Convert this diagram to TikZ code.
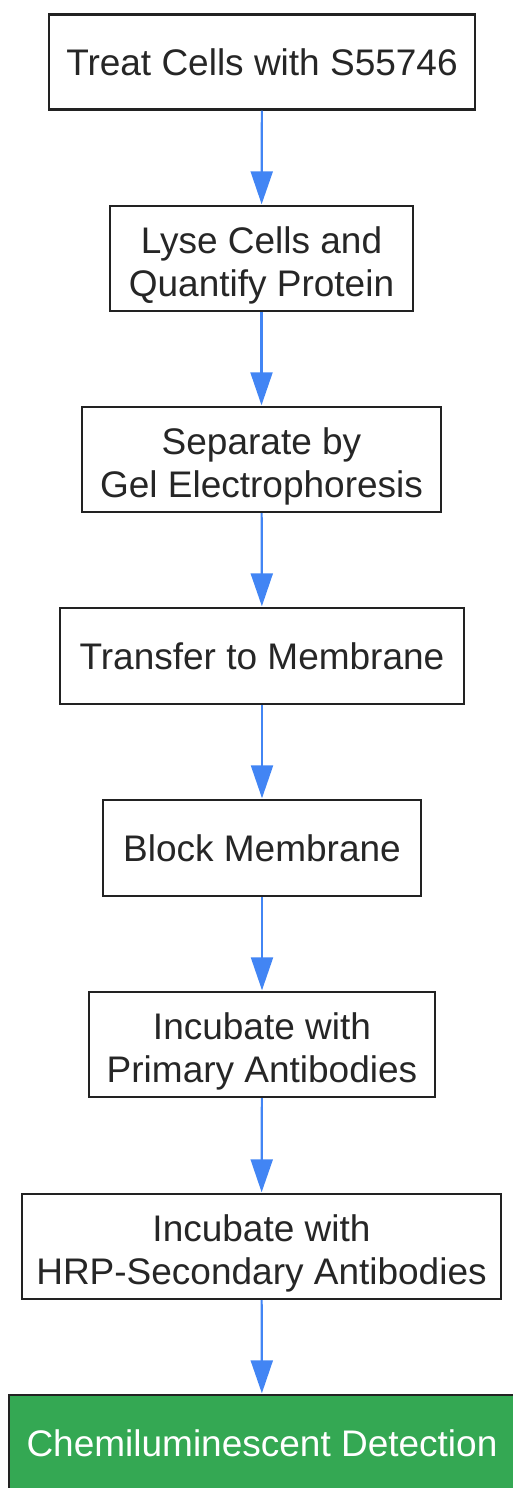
\documentclass[tikz,border=0pt]{standalone}
\usepackage{fontspec}
\setmainfont{Liberation Sans}
\usetikzlibrary{arrows.meta}
\definecolor{boxline}{HTML}{222222}
\definecolor{txt}{HTML}{262626}
\definecolor{arr}{HTML}{4285F4}
\definecolor{grn}{HTML}{34A853}
\newcommand{\topstrut}{\rule{0pt}{40pt}}
\tikzset{
  stepbox/.style={draw=boxline, line width=2.4pt, fill=white, inner sep=0pt, align=center,
    text=txt, font=\fontsize{37}{43.3}\selectfont},
  finalbox/.style={stepbox, fill=grn, text=white},
  flow/.style={draw=arr, line width=2.2pt, -{Triangle[width=22pt,length=33pt]}, shorten >=0.5pt}
}
\begin{document}
\begin{tikzpicture}[x=1pt,y=-1pt]
\useasboundingbox (0,0) rectangle (513,1488);
\clip (0,0) rectangle (513,1488);
\node[stepbox, minimum width=426pt, minimum height=95pt] (n1) at (262,62) {Treat Cells with S55746};
\node[stepbox, minimum width=303pt, minimum height=105pt] (n2) at (261.5,258.5) {\topstrut Lyse Cells and\\Quantify Protein};
\node[stepbox, minimum width=359pt, minimum height=105pt] (n3) at (261.5,459.5) {\topstrut Separate by\\Gel Electrophoresis};
\node[stepbox, minimum width=404pt, minimum height=96pt] (n4) at (262,656) {Transfer to Membrane};
\node[stepbox, minimum width=318pt, minimum height=96pt] (n5) at (262,848) {Block Membrane};
\node[stepbox, minimum width=346pt, minimum height=105pt] (n6) at (262,1044.5) {\topstrut Incubate with\\Primary Antibodies};
\node[stepbox, minimum width=479pt, minimum height=105pt] (n7) at (261.5,1246.5) {\topstrut Incubate with\\HRP-Secondary Antibodies};
\node[finalbox, minimum width=506pt, minimum height=96pt] (n8) at (262,1443) {Chemiluminescent Detection};
\draw[flow] (n1) -- (n2);
\draw[flow] (n2) -- (n3);
\draw[flow] (n3) -- (n4);
\draw[flow] (n4) -- (n5);
\draw[flow] (n5) -- (n6);
\draw[flow] (n6) -- (n7);
\draw[flow] (n7) -- (n8);
\end{tikzpicture}
\end{document}
